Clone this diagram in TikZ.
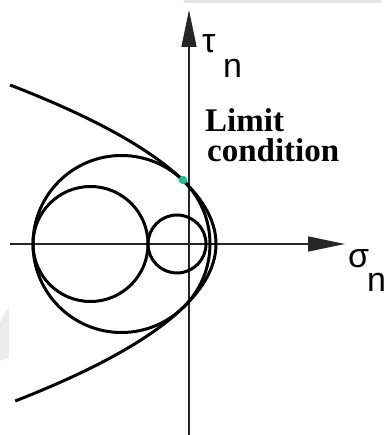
\documentclass[tikz,border=0pt]{standalone}
\usepackage{fontspec}
\setmainfont{Liberation Serif}
\newfontfamily\greekfont{Liberation Sans}
\usetikzlibrary{arrows.meta}
\definecolor{limitgreen}{RGB}{20,200,150}

\begin{document}
\begin{tikzpicture}[x=1pt, y=1pt,
    axis/.style={line width=1.4pt, draw=black!85, -{Triangle[length=37pt, width=15pt]}},
    mohr/.style={line width=3pt},
    sym/.style={font=\greekfont\fontsize{34}{34}\selectfont, inner sep=0pt, anchor=base west},
    lbl/.style={font=\bfseries\fontsize{33}{33}\selectfont, inner sep=0pt, anchor=base west}]
  \useasboundingbox (-189,-191) rectangle (197,244);
  % faint marks of the scan
  \fill[black!10] (-6,244) -- (194,244) -- (192,241) -- (-4,241) -- cycle;
  \fill[black!8] (-189,-78) -- (-180,-62) -- (-180,-114) -- (-189,-117) -- cycle;
  % axes
  \coordinate (o) at (0,0);
  \coordinate (sleft) at (-179,0);
  \coordinate (sright) at (156,0);
  \coordinate (tbot) at (0,-191);
  \coordinate (ttop) at (0,234);
  \draw[axis] (sleft) -- (sright);
  \draw[axis] (tbot) -- (ttop);
  % Mohr circles
  \coordinate (cbig) at (-67.5,0);
  \coordinate (cmid) at (-98.5,0);
  \coordinate (csmall) at (-12,0);
  \draw[mohr] (cbig) circle (88.5);
  \draw[mohr] (cmid) circle (57.5);
  \draw[mohr] (csmall) circle (29);
  % envelope
  \draw[mohr, domain=-157:159, samples=90, smooth] plot ({27-(\x/11.08)*(\x/11.08)}, \x);
  \node[circle, fill=limitgreen, minimum size=8.5pt, inner sep=0pt] (tp) at (-6,64) {};
  % labels
  \node[sym] (tau) at (13,191) {τ};
  \node[sym] (taun) at (34,166) {n};
  \node[sym] (sig) at (159,-24) {σ};
  \node[sym] (sign) at (178,-48) {n};
  \node[lbl] (lim) at (16,112) {Limit};
  \node[lbl] (cond) at (18,82) {condition};
\end{tikzpicture}
\end{document}
